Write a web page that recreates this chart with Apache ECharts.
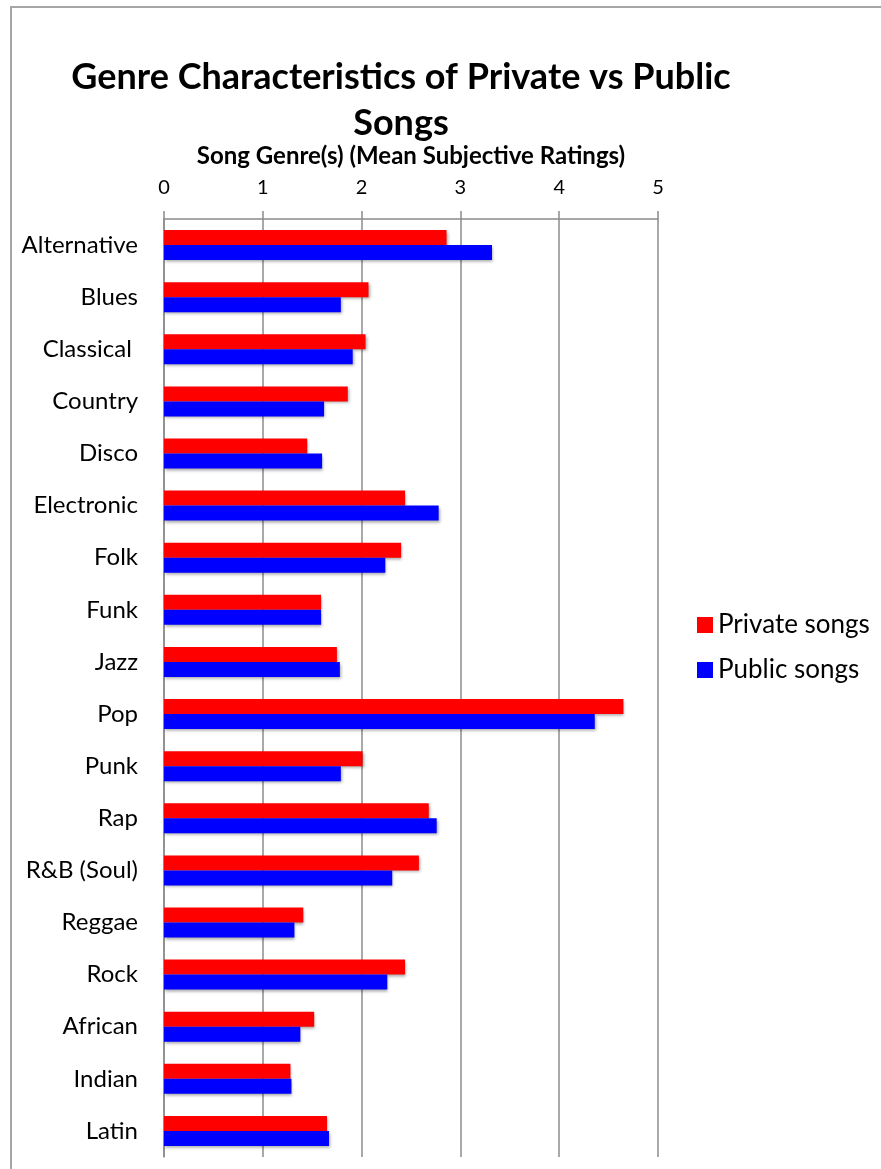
<!DOCTYPE html>
<html>
<head>
<meta charset="utf-8">
<title>Genre Characteristics of Private vs Public Songs</title>
<script src="https://cdn.jsdelivr.net/npm/echarts@6/dist/echarts.min.js"></script>
<style>
  html, body { margin: 0; padding: 0; background: #fff; }
  #chart { width: 881px; height: 1169px; }
</style>
</head>
<body>
<div id="chart"></div>
<script>
var genres = ['Alternative', 'Blues', 'Classical ', 'Country', 'Disco', 'Electronic', 'Folk', 'Funk', 'Jazz', 'Pop',
  'Punk', 'Rap', 'R&B (Soul)', 'Reggae', 'Rock', 'African', 'Indian', 'Latin'];
var privateSongs = [2.86, 2.07, 2.04, 1.86, 1.45, 2.44, 2.40, 1.59, 1.75, 4.65,
  2.01, 2.68, 2.58, 1.41, 2.44, 1.52, 1.28, 1.65];
var publicSongs = [3.32, 1.79, 1.91, 1.62, 1.60, 2.78, 2.24, 1.59, 1.78, 4.36,
  1.79, 2.76, 2.31, 1.32, 2.26, 1.38, 1.29, 1.67];
var ratingTicks = [0, 1, 2, 3, 4, 5];

(function () {
  var FONT = 'Lato, "Open Sans", sans-serif';
  var chart = echarts.init(document.getElementById('chart'));
  var gridColor = '#8c8c8c';

  var barShadow = {
    shadowColor: 'rgba(0, 0, 0, 0.35)',
    shadowBlur: 3,
    shadowOffsetX: 1,
    shadowOffsetY: 2
  };

  var option = {
    backgroundColor: '#fff',
    animation: false,
    textStyle: { fontFamily: FONT },
    graphic: [
      {
        type: 'rect',
        silent: true,
        shape: { x: 11, y: 7, width: 1000, height: 1300 },
        style: { fill: 'none', stroke: '#a6a6a6', lineWidth: 2 }
      }
    ],
    title: {
      text: 'Genre Characteristics of Private vs Public\nSongs',
      left: 396,
      top: 49,
      textAlign: 'center',
      textStyle: {
        fontFamily: FONT,
        fontSize: 36,
        fontWeight: 'bold',
        color: '#000',
        lineHeight: 46
      }
    },
    legend: {
      orient: 'vertical',
      left: 692,
      top: 607,
      icon: 'rect',
      itemWidth: 16,
      itemHeight: 16,
      itemGap: 19,
      textStyle: { fontFamily: FONT, fontSize: 26, color: '#000' },
      data: ['Private songs', 'Public songs']
    },
    grid: {
      left: 164,
      right: 223,
      top: 219,
      bottom: 12,
      containLabel: false
    },
    xAxis: {
      type: 'value',
      position: 'top',
      min: ratingTicks[0],
      max: ratingTicks[ratingTicks.length - 1],
      interval: 1,
      name: 'Song Genre(s) (Mean Subjective Ratings)',
      nameLocation: 'middle',
      nameGap: 51,
      nameTextStyle: { fontFamily: FONT, fontSize: 24, fontWeight: 'bold', color: '#000' },
      axisLine: { show: true, lineStyle: { color: gridColor, width: 1.5 } },
      axisTick: { show: true, length: 8, lineStyle: { color: gridColor, width: 1.5 } },
      axisLabel: { color: '#000', fontSize: 20, margin: 21, fontFamily: FONT },
      splitLine: { show: true, lineStyle: { color: gridColor, width: 1.5 } }
    },
    yAxis: {
      type: 'category',
      inverse: true,
      data: genres,
      axisLine: { show: true, lineStyle: { color: gridColor, width: 1.5 } },
      axisTick: { show: false },
      axisLabel: { color: '#000', fontSize: 24, margin: 26, fontFamily: FONT },
      splitLine: { show: false }
    },
    series: [
      {
        name: 'Private songs',
        type: 'bar',
        data: privateSongs,
        barWidth: 15,
        barGap: '0%',
        itemStyle: Object.assign({ color: '#ff0000' }, barShadow)
      },
      {
        name: 'Public songs',
        type: 'bar',
        data: publicSongs,
        barWidth: 15,
        barGap: '0%',
        itemStyle: Object.assign({ color: '#0000ff' }, barShadow)
      }
    ]
  };

  chart.setOption(option);
})();
</script>
</body>
</html>
